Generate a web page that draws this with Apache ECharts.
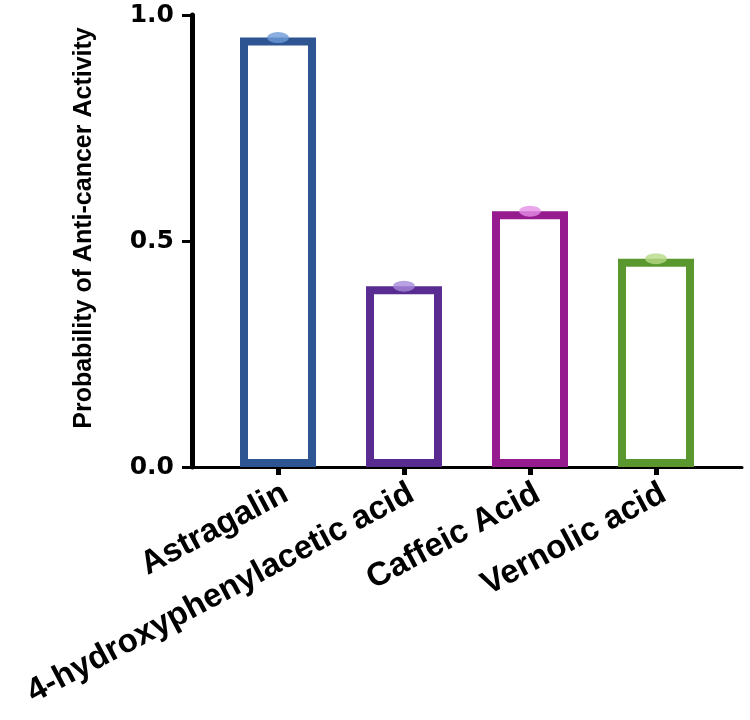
<!DOCTYPE html>
<html>
<head>
<meta charset="utf-8">
<script src="https://cdn.jsdelivr.net/npm/echarts@6/dist/echarts.min.js"></script>
<style>html,body{margin:0;padding:0;background:#fff}#c{width:750px;height:720px}</style>
</head>
<body>
<div id="c"></div>
<script>
// ---- data ----
var categories = ['Astragalin', '4-hydroxyphenylacetic acid', 'Caffeic Acid', 'Vernolic acid'];
var values = [0.95, 0.40, 0.566, 0.461];
var yMin = 0, yMax = 1, yInterval = 0.5;
var yAxisTitle = 'Probability of Anti-cancer Activity';

// ---- styles ----
var borderColors = ['#2c5592', '#582c91', '#951b8e', '#5a982f'];
var dotColors = ['#6e9ad8', '#a58ad9', '#e68ee8', '#b5da86'];

var chart = echarts.init(document.getElementById('c'), null, {renderer: 'canvas'});
var gridTop = 15, gridBottom = 720 - 467;
chart.setOption({
  animation: false,
  backgroundColor: '#ffffff',
  grid: [
    {left: 192, right: 8, top: gridTop, bottom: gridBottom, containLabel: false, outerBoundsMode: 'none'},
    {left: 215, right: 31, top: gridTop, bottom: gridBottom, containLabel: false, outerBoundsMode: 'none'}
  ],
  xAxis: [
    {gridIndex: 0, type: 'value', min: 0, max: 1,
     axisLine: {show: true, onZero: false, lineStyle: {color: '#000', width: 3}},
     axisTick: {show: false}, axisLabel: {show: false}, splitLine: {show: false}},
    {gridIndex: 1, type: 'category', data: categories,
     axisLine: {show: false},
     axisTick: {show: true, alignWithLabel: true, length: 8, lineStyle: {color: '#000', width: 5}},
     axisLabel: {rotate: 28, margin: 10, verticalAlign: 'top', color: '#000', fontFamily: 'Liberation Sans, Arial', fontWeight: 'bold', fontSize: 33, interval: 0},
     splitLine: {show: false}}
  ],
  yAxis: [
    {gridIndex: 0, type: 'value', min: yMin, max: yMax, interval: yInterval,
     name: yAxisTitle, nameLocation: 'middle', nameGap: 95, nameRotate: 90,
     nameTextStyle: {color: '#000', fontFamily: 'Liberation Sans, Arial', fontWeight: 'bold', fontSize: 25, padding: [0, 0, 0, 26]},
     axisLine: {show: true, lineStyle: {color: '#000', width: 5}},
     axisTick: {show: true, length: 10, lineStyle: {color: '#000', width: 3}},
     axisLabel: {color: '#000', fontFamily: 'DejaVu Sans', fontWeight: 'bold', fontSize: 25, margin: 18,
       formatter: function (v) { return v.toFixed(1); }},
     splitLine: {show: false}},
    {gridIndex: 1, type: 'value', min: yMin, max: yMax, interval: yInterval, show: false}
  ],
  series: [
    {type: 'bar', xAxisIndex: 1, yAxisIndex: 1, barWidth: 76,
     data: values.map(function (v, i) {
       return {value: v, itemStyle: {color: '#ffffff', borderColor: borderColors[i], borderWidth: 8}};
     })},
    {type: 'scatter', xAxisIndex: 1, yAxisIndex: 1, symbol: 'circle', symbolSize: [22, 11], z: 5,
     data: values.map(function (v, i) {
       return {value: v, itemStyle: {color: dotColors[i]}};
     })}
  ]
});
</script>
</body>
</html>
